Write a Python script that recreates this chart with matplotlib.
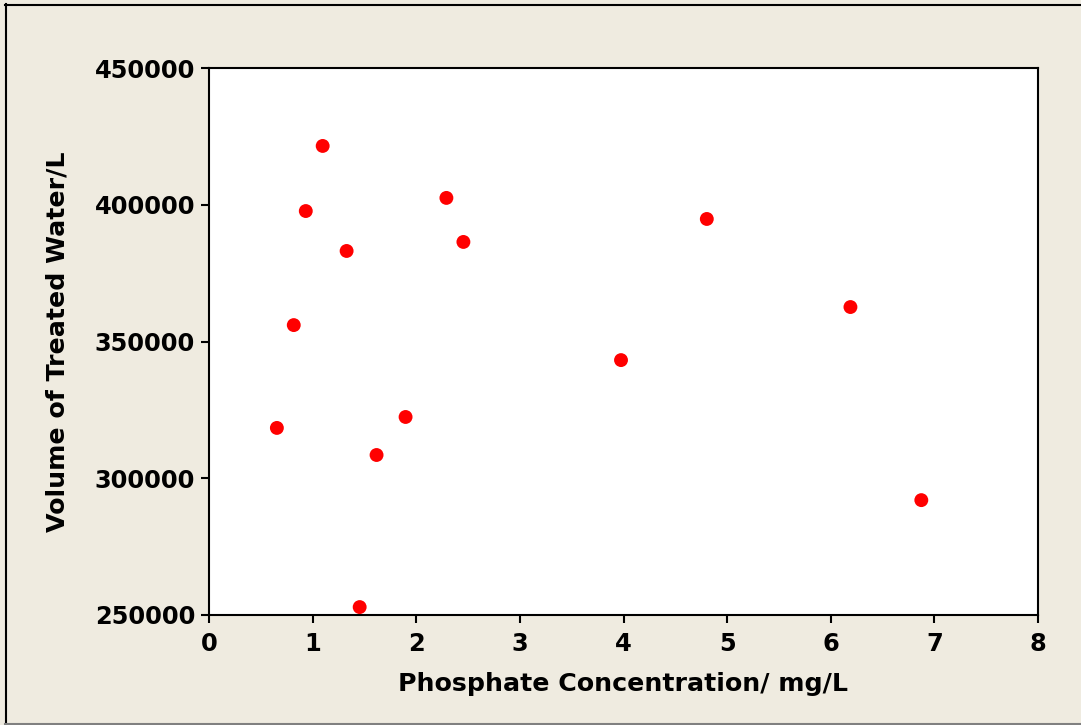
import matplotlib
matplotlib.use("Agg")
import matplotlib.pyplot as plt
from matplotlib.lines import Line2D

# data
phosphate = [0.655, 0.818, 0.934, 1.097, 1.328, 1.454, 1.617, 1.897,
             2.291, 2.455, 3.976, 4.804, 6.19, 6.874]
volume = [318400, 356000, 397700, 421500, 383100, 252900, 308500, 322400,
          402500, 386400, 343200, 394800, 362600, 292000]

x_ticks = [0, 1, 2, 3, 4, 5, 6, 7, 8]
y_ticks = [250000, 300000, 350000, 400000, 450000]

bg = "#efebe0"
W, H = 1081, 725

fig = plt.figure(figsize=(W / 100, H / 100), dpi=100, facecolor=bg)
# frame around the graph window: left/top dark, bottom grey, right cut off
fig.add_artist(Line2D([5.5 / W, 5.5 / W], [1 - 4 / H, 0], transform=fig.transFigure,
                      color="black", linewidth=1.5))
fig.add_artist(Line2D([5 / W, 1], [1 - 4.5 / H, 1 - 4.5 / H], transform=fig.transFigure,
                      color="black", linewidth=1.5))
fig.add_artist(Line2D([5 / W, 1], [1.5 / H, 1.5 / H], transform=fig.transFigure,
                      color="#808080", linewidth=1.5))

ax = fig.add_axes([209 / W, 1 - 615 / H, 829 / W, 547 / H])
ax.set_facecolor("white")

ax.scatter(phosphate, volume, s=100, color="#ff0000", edgecolors="none", zorder=3)

ax.set_xlim(0, 8)
ax.set_ylim(250000, 450000)
ax.set_xticks(x_ticks)
ax.set_yticks(y_ticks)
ax.tick_params(direction="out", length=6, width=1.5, labelsize=17.4)
ax.tick_params(axis="x", pad=6)
ax.tick_params(axis="y", pad=4)
for lab in ax.get_xticklabels() + ax.get_yticklabels():
    lab.set_fontweight("bold")
for sp in ax.spines.values():
    sp.set_linewidth(1.5)

ax.set_xlabel("Phosphate Concentration/ mg/L", fontsize=18.2, fontweight="bold", labelpad=12)
ax.set_ylabel("Volume of Treated Water/L", fontsize=18.2, fontweight="bold", labelpad=18)

fig.savefig("out.png", dpi=100, facecolor=bg)
